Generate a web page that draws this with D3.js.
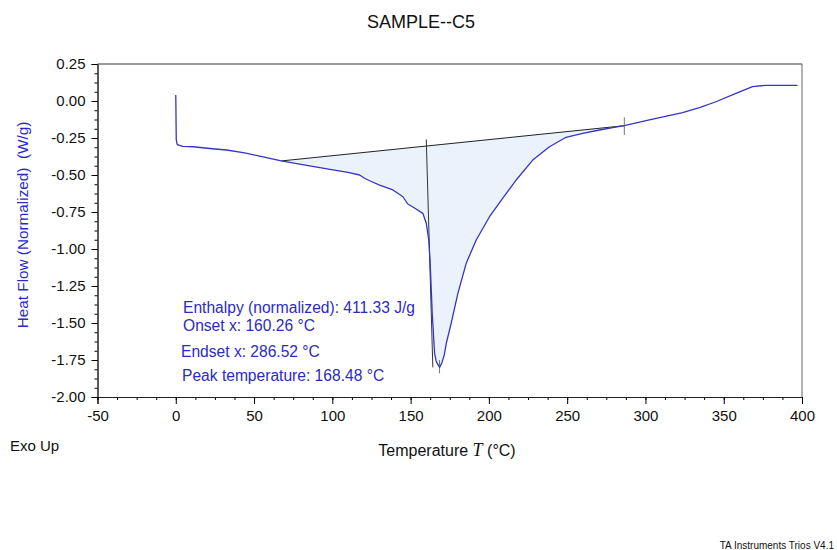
<!DOCTYPE html>
<html>
<head>
<meta charset="utf-8">
<script src="https://cdn.jsdelivr.net/npm/d3@7"></script>
<style>
  body { margin: 0; background: #fff; }
  svg { font-family: "Liberation Sans", Arial, sans-serif; }
</style>
</head>
<body>
<div id="chart"></div>
<script>
const WIDTH = 837;
const HEIGHT = 550;
const LEFT = 97.5;
const RIGHT = 802;
const TOP = 64;
const BOTTOM = 397;
const CURVE_BLUE = '#3535c4';
const TEXT_BLUE = '#2b2bc4';

// heat flow curve
const temperature = [0.0, 0.1, 0.3, 0.8, 1.5, 4.5, 11.0, 21.7, 32.4, 44.0, 53.6, 67.4, 85.5, 100.4,
  110.0, 117.4, 120.6, 123.8, 130.2, 138.7, 145.1, 148.2, 152.5, 157.8, 160.0, 161.6, 162.5, 163.8,
  165.3, 166.4, 168.5, 170.0, 171.5, 172.8, 175.9, 180.2, 185.5, 191.9, 200.4, 208.9, 217.4,
  228.0, 238.7, 249.3, 259.9, 270.6, 279.1, 286.5, 302.5, 323.7, 335.0, 345.0, 357.8, 368.4, 377.0, 397.1];
const heatFlow = [0.04, -0.06, -0.26, -0.29, -0.297, -0.306, -0.309, -0.321, -0.331, -0.351, -0.372,
  -0.405, -0.439, -0.466, -0.482, -0.500, -0.522, -0.539, -0.568, -0.601, -0.647, -0.696, -0.723, -0.759,
  -0.826, -0.939, -1.097, -1.434, -1.705, -1.761, -1.80, -1.768, -1.716, -1.637, -1.502, -1.300,
  -1.097, -0.939, -0.782, -0.657, -0.534, -0.399, -0.309, -0.245, -0.218, -0.196, -0.180, -0.167,
  -0.128, -0.079, -0.043, -0.005, 0.052, 0.097, 0.106, 0.106];

// integration baseline and analysis markers
const baselineT = [67.4, 286.52];
const baselineW = [-0.405, -0.167];
const onsetLineT = [160.0, 164.2];
const onsetLineW = [-0.26, -1.80];
const peakTickT = [168.48, 168.48];
const peakTickW = [-1.75, -1.84];
const endsetTickT = [286.52, 286.52];
const endsetTickW = [-0.11, -0.23];

const xTicks = [-50, 0, 50, 100, 150, 200, 250, 300, 350, 400];
const yTicks = [0.25, 0, -0.25, -0.5, -0.75, -1, -1.25, -1.5, -1.75, -2];
const yTickLabels = ['0.25', '0.00', '-0.25', '-0.50', '-0.75', '-1.00', '-1.25', '-1.50', '-1.75', '-2.00'];

const resultLines = [
  'Enthalpy (normalized): 411.33 J/g',
  'Onset x: 160.26 \u00b0C',
  'Endset x: 286.52 \u00b0C',
  'Peak temperature: 168.48 \u00b0C'
];
const resultY = [313, 331, 357, 381];
const resultX = [183, 183, 181, 182];

const svg = d3.select('#chart').append('svg')
  .attr('width', WIDTH)
  .attr('height', HEIGHT);

svg.append('rect').attr('width', WIDTH).attr('height', HEIGHT).attr('fill', '#fff');

const x = d3.scaleLinear().domain([-50, 400]).range([LEFT, RIGHT]);
const y = d3.scaleLinear().domain([-2, 0.25]).range([BOTTOM, TOP]);

const points = temperature.map((t, i) => ({ t: t, w: heatFlow[i] }));
const baseAt = (t) => baselineW[0] + (t - baselineT[0]) * (baselineW[1] - baselineW[0]) / (baselineT[1] - baselineT[0]);

// filled area between baseline and curve
let areaPts = points.filter((d) => d.t >= baselineT[0] && d.t <= baselineT[1]);
areaPts.push({ t: baselineT[1], w: baselineW[1] });
svg.append('path')
  .datum(areaPts)
  .attr('fill', '#eaf3fc')
  .attr('stroke', 'none')
  .attr('d', d3.area()
    .x((d) => x(d.t))
    .y0((d) => y(baseAt(d.t)))
    .y1((d) => y(d.w)));

// frame: top and right
svg.append('line').attr('x1', LEFT).attr('y1', TOP).attr('x2', RIGHT).attr('y2', TOP)
  .attr('stroke', '#333').attr('stroke-width', 1.2);
svg.append('line').attr('x1', RIGHT).attr('y1', TOP).attr('x2', RIGHT).attr('y2', BOTTOM)
  .attr('stroke', '#666').attr('stroke-width', 1);

// axes
const minorX = d3.range(-50, 400.1, 12.5);
const minorY = d3.range(-2, 0.251, 0.0625);

const xAxis = svg.append('g').attr('transform', `translate(0,${BOTTOM})`);
xAxis.call(d3.axisBottom(x).tickValues(minorX).tickSize(3).tickFormat(''));
xAxis.append('g').call(d3.axisBottom(x).tickValues(xTicks).tickSize(7).tickPadding(6).tickFormat((d) => d));
xAxis.selectAll('.domain').attr('stroke', '#222');
xAxis.selectAll('text').attr('font-size', 15).attr('fill', '#111')
  .attr('font-family', '"Liberation Sans", Arial, sans-serif');

const yAxis = svg.append('g').attr('transform', `translate(${LEFT},0)`);
yAxis.call(d3.axisLeft(y).tickValues(minorY).tickSize(3).tickFormat(''));
yAxis.append('g').call(d3.axisLeft(y).tickValues(yTicks).tickSize(6).tickPadding(6)
  .tickFormat((d, i) => yTickLabels[i]));
yAxis.selectAll('.domain').attr('stroke', '#222');
yAxis.selectAll('text').attr('font-size', 15).attr('fill', '#111')
  .attr('font-family', '"Liberation Sans", Arial, sans-serif');

const line = d3.line().x((d) => x(d.t)).y((d) => y(d.w));
const pair = (ts, ws) => ts.map((t, i) => ({ t: t, w: ws[i] }));

// baseline and tangent lines
svg.append('path').datum(pair(baselineT, baselineW))
  .attr('d', line).attr('stroke', '#222').attr('stroke-width', 1).attr('fill', 'none');
svg.append('path').datum(pair(onsetLineT, onsetLineW))
  .attr('d', line).attr('stroke', '#333').attr('stroke-width', 1).attr('fill', 'none');

// heat flow curve
svg.append('path').datum(points)
  .attr('d', line)
  .attr('fill', 'none')
  .attr('stroke', CURVE_BLUE)
  .attr('stroke-width', 1.3)
  .attr('stroke-linejoin', 'round');

svg.append('path').datum(pair(peakTickT, peakTickW))
  .attr('d', line).attr('stroke', '#555').attr('stroke-width', 0.8).attr('fill', 'none');
svg.append('path').datum(pair(endsetTickT, endsetTickW))
  .attr('d', line).attr('stroke', '#555').attr('stroke-width', 0.8).attr('fill', 'none');

// result text
svg.append('g').selectAll('text')
  .data(resultLines)
  .enter()
  .append('text')
  .attr('x', (d, i) => resultX[i])
  .attr('y', (d, i) => resultY[i])
  .attr('font-size', 15.6)
  .attr('fill', TEXT_BLUE)
  .text((d) => d);

// titles
svg.append('text').attr('x', 421).attr('y', 28).attr('text-anchor', 'middle')
  .attr('font-size', 18).attr('fill', '#111').text('SAMPLE--C5');

svg.append('text')
  .attr('transform', 'translate(28,225) rotate(-90)')
  .attr('text-anchor', 'middle')
  .attr('font-size', 15.3)
  .attr('fill', TEXT_BLUE)
  .attr('xml:space', 'preserve')
  .text('Heat Flow (Normalized)  (W/g)');

const xLabel = svg.append('text').attr('x', 447).attr('y', 456).attr('text-anchor', 'middle')
  .attr('font-size', 16).attr('fill', '#111');
xLabel.append('tspan').text('Temperature ');
xLabel.append('tspan').attr('font-family', '"Liberation Serif", "DejaVu Serif", serif')
  .attr('font-style', 'italic').attr('font-size', 18).text('T');
xLabel.append('tspan').text(' (\u00b0C)');

svg.append('text').attr('x', 10).attr('y', 451).attr('font-size', 15).attr('fill', '#111').text('Exo Up');

svg.append('text').attr('x', 834).attr('y', 549).attr('text-anchor', 'end')
  .attr('font-size', 10).attr('fill', '#111').text('TA Instruments Trios V4.1');
</script>
</body>
</html>
